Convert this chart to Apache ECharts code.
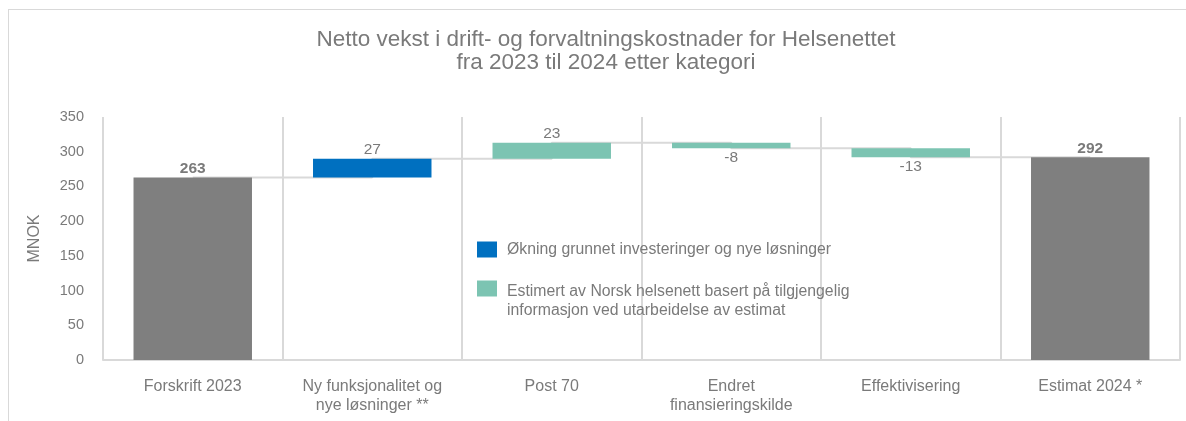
<!DOCTYPE html>
<html>
<head>
<meta charset="utf-8">
<script src="https://cdn.jsdelivr.net/npm/echarts@6/dist/echarts.min.js"></script>
<style>
  html, body { margin: 0; padding: 0; overflow: hidden; background: #fff; }
  #chart { width: 1186px; height: 421px; }
  .frame {
    position: absolute; left: 8px; top: 9px; width: 1300px; height: 600px;
    border-left: 1px solid #d9d9d9; border-top: 1px solid #d9d9d9;
    pointer-events: none;
  }
</style>
</head>
<body>
<div id="chart"></div>
<div class="frame"></div>
<script>
// data
const categories = ['Forskrift 2023', 'Ny funksjonalitet og\nnye løsninger **', 'Post 70', 'Endret\nfinansieringskilde', 'Effektivisering', 'Estimat 2024 *']
const startValue = 263
const endValue = 292
const changes = [27, 23, -8, -13]       // categories 1..4
const changeKind = ['invest', 'estimate', 'estimate', 'estimate']
const yTicks = { min: 0, max: 350, interval: 50 }

const legendInvest = 'Økning grunnet investeringer og nye løsninger'
const legendEstimate = 'Estimert av Norsk helsenett basert på tilgjengelig\ninformasjon ved utarbeidelse av estimat'

const GRAY = '#7f7f7f'
const BLUE = '#0070c0'
const TEAL = '#7cc4b2'
const TEXT = '#7a7a7a'
const LINE = '#d9d9d9'

// build waterfall pieces
const base = [0]
const levels = [startValue]
let run = startValue
changes.forEach(function (d) {
  base.push(d >= 0 ? run : run + d)
  run += d
  levels.push(run)
})
base.push(0)
levels.push(endValue)

const totals = [startValue, '-', '-', '-', '-', endValue]
function deltaSeries (kind) {
  const out = ['-']
  changes.forEach(function (d, i) {
    if (changeKind[i] !== kind) { out.push('-'); return }
    out.push({ value: Math.abs(d), delta: d, label: { position: d >= 0 ? 'top' : 'bottom' } })
  })
  out.push('-')
  return out
}

const legendRich = {
  s: { lineHeight: 25, fontSize: 15.8 },
  t: { lineHeight: 19, fontSize: 15.8, color: TEXT, padding: [0, 0, 0, 5] }
}
const legendCommon = {
  orient: 'vertical',
  left: 472,
  itemWidth: 20,
  itemHeight: 16,
  selectedMode: false,
  icon: 'rect',
  textStyle: { color: TEXT, fontSize: 15.8, rich: legendRich }
}

const chart = echarts.init(document.getElementById('chart'))
chart.setOption({
  animation: false,
  textStyle: { fontFamily: 'Liberation Sans, Arial, sans-serif' },
  title: {
    text: 'Netto vekst i drift- og forvaltningskostnader for Helsenettet\nfra 2023 til 2024 etter kategori',
    left: 601,
    textAlign: 'center',
    top: 23,
    textStyle: { color: TEXT, fontSize: 22.5, fontWeight: 'normal', lineHeight: 23 }
  },
  legend: [
    Object.assign({}, legendCommon, {
      top: 236.5,
      data: [legendInvest],
      formatter: function (name) { return '{t|' + name + '}' }
    }),
    // spacer line on top keeps the icon level with the first text line
    Object.assign({}, legendCommon, {
      top: 256.5,
      data: [legendEstimate],
      formatter: function (name) {
        const parts = name.split('\n')
        return '{s| }\n{t|' + parts[0] + '}\n{t|' + parts[1] + '}'
      }
    })
  ],
  grid: { left: 103, right: 6, top: 117, bottom: 61 },
  xAxis: {
    type: 'category',
    data: categories,
    axisLine: { lineStyle: { color: LINE, width: 2 } },
    axisTick: { show: false },
    axisLabel: { color: TEXT, fontSize: 16, margin: 17, lineHeight: 19, interval: 0 },
    splitLine: { show: true, interval: 0, lineStyle: { color: LINE, width: 2 } }
  },
  yAxis: {
    type: 'value',
    min: yTicks.min,
    max: yTicks.max,
    interval: yTicks.interval,
    name: 'MNOK',
    nameLocation: 'middle',
    nameGap: 60,
    nameTextStyle: { color: TEXT, fontSize: 16 },
    axisLine: { show: false },
    axisTick: { show: false },
    splitLine: { show: false },
    axisLabel: { color: TEXT, fontSize: 14.5, margin: 19 }
  },
  series: [{
    name: 'connector',
    type: 'line',
    step: 'end',
    data: levels,
    symbol: 'none',
    z: 1,
    silent: true,
    lineStyle: { color: LINE, width: 2 }
  }, {
    name: 'base',
    type: 'bar',
    stack: 'w',
    barWidth: '66%',
    data: base,
    itemStyle: { color: 'transparent' },
    silent: true,
    zlevel: 1
  }, {
    name: 'total',
    type: 'bar',
    stack: 'w',
    data: totals,
    itemStyle: { color: GRAY },
    zlevel: 1,
    label: { show: true, position: 'top', color: TEXT, fontSize: 15.5, fontWeight: 'bold', distance: 1 }
  }, {
    name: legendInvest,
    type: 'bar',
    stack: 'w',
    data: deltaSeries('invest'),
    itemStyle: { color: BLUE },
    zlevel: 1,
    label: {
      show: true, color: TEXT, fontSize: 15.5, distance: 1,
      formatter: function (p) { return p.data.delta }
    }
  }, {
    name: legendEstimate,
    type: 'bar',
    stack: 'w',
    data: deltaSeries('estimate'),
    itemStyle: { color: TEAL },
    zlevel: 1,
    label: {
      show: true, color: TEXT, fontSize: 15.5, distance: 1,
      formatter: function (p) { return p.data.delta }
    }
  }]
})
</script>
</body>
</html>
